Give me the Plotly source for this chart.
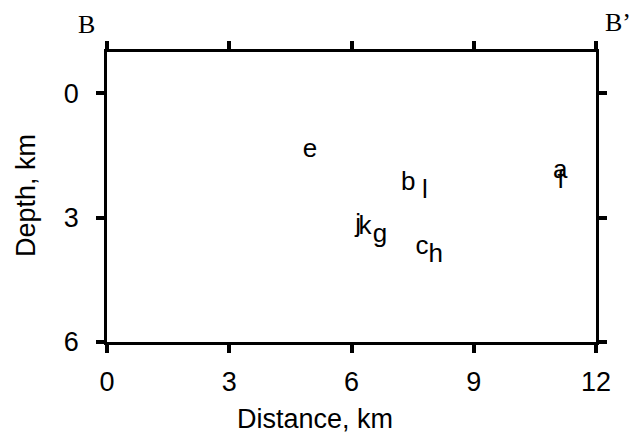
import plotly.graph_objects as go

# Event labels and their positions (distance along B-B', depth)
labels = ['a', 'b', 'c', 'e', 'f', 'g', 'h', 'j', 'k', 'l']
distance_km = [11.12, 7.39, 7.73, 4.98, 11.14, 6.70, 8.07, 6.16, 6.33, 7.80]
depth_km = [1.88, 2.18, 3.71, 1.37, 2.12, 3.42, 3.92, 3.18, 3.23, 2.36]

x_ticks = [0, 3, 6, 9, 12]
y_ticks = [0, 3, 6]

SANS = "Liberation Sans, Arial, Helvetica, sans-serif"
SERIF = "Liberation Serif, Times New Roman, serif"

W, H = 635, 440
ML, MR, MT, MB = 107, 39, 52, 98

fig = go.Figure()
fig.add_trace(go.Scatter(
    x=distance_km, y=depth_km, text=labels, mode="text",
    textposition="middle center",
    textfont=dict(family=SANS, size=26, color="black"),
    showlegend=False, hoverinfo="skip",
))

axis_common = dict(
    showline=True, linecolor="black", linewidth=2.5, mirror="ticks",
    ticks="outside", ticklen=8, tickwidth=3.5, tickcolor="black",
    showgrid=False, zeroline=False, automargin=False,
    tickfont=dict(family=SANS, size=27, color="black"),
)

fig.update_layout(
    width=W, height=H,
    margin=dict(l=ML, r=MR, t=MT, b=MB),
    paper_bgcolor="white", plot_bgcolor="white",
    xaxis=dict(range=[0, 12], tickvals=x_ticks, ticklabelstandoff=6, **axis_common),
    yaxis=dict(range=[6, -1], tickvals=y_ticks, ticklabelstandoff=12, **axis_common),
)

pw, ph = W - ML - MR, H - MT - MB


def px_to_paper(px, py):
    return (px - ML) / pw, (H - MB - py) / ph


def add_label(text, px, py, family, size, angle=0):
    x, y = px_to_paper(px, py)
    fig.add_annotation(text=text, x=x, y=y, xref="paper", yref="paper", showarrow=False,
                       xanchor="center", yanchor="middle", textangle=angle,
                       font=dict(family=family, size=size, color="black"))


add_label("B", 86, 25, SERIF, 26)
add_label("B’", 618, 23, SERIF, 26)
add_label("Distance, km", 315, 419, SANS, 27)
add_label("Depth, km", 26, 196, SANS, 27, angle=-90)

fig.write_html("out.html",
               config={"displayModeBar": False},
               post_script="document.body.style.margin='0';document.body.style.padding='0';")
